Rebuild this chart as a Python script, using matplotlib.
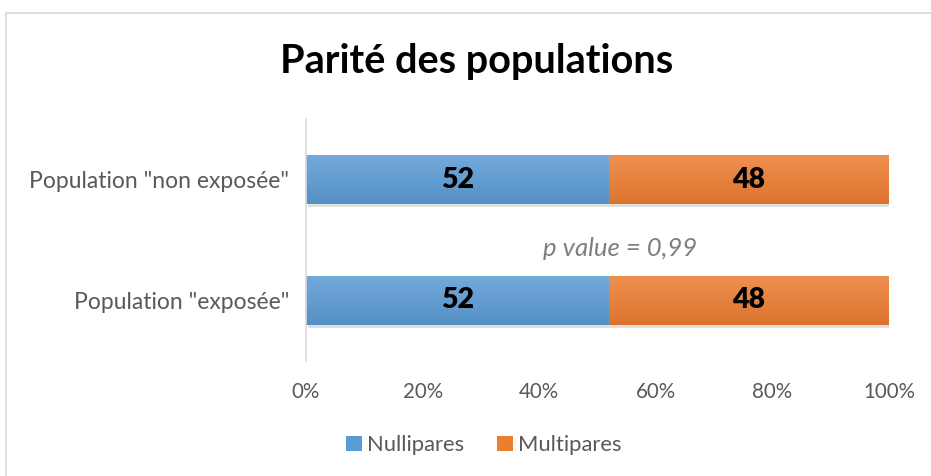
import numpy as np
import matplotlib.pyplot as plt
from matplotlib.patches import Rectangle

# data
categories = ['Population "exposée"', 'Population "non exposée"']
nullipares = [52, 52]
multipares = [48, 48]
series_names = ['Nullipares', 'Multipares']
p_value_text = 'p value = 0,99'
xticks = [0, 20, 40, 60, 80, 100]

blue = '#5B9BD5'
orange = '#ED7D31'
grey = '#595959'

plt.rcParams['font.family'] = ['Lato', 'DejaVu Sans']

fig = plt.figure(figsize=(9.31, 4.76), dpi=100)
ax = fig.add_axes([306 / 931, 115 / 476, 583 / 931, 242 / 476])

# chart border
fig.patches.append(Rectangle((6 / 931, -0.1), 1.1, (476 - 13) / 476 + 0.1,
                             transform=fig.transFigure, fill=False,
                             edgecolor='#D9D9D9', lw=1.2))


def gradient_bar(ax, left, y, width, height, color):
    # vertical gradient, lighter at the top
    base = np.array(plt.matplotlib.colors.to_rgb(color))
    light = base + (1 - base) * 0.15
    dark = base * 0.93
    t = np.linspace(0, 1, 50)[:, None]
    img = light * (1 - t[..., None]) + dark * t[..., None]
    img = np.repeat(img, 2, axis=1)
    # shadow
    ax.add_patch(Rectangle((left + 0.3, y - height / 2 - 0.025), width, height,
                           facecolor='#000000', alpha=0.12, lw=0, zorder=1))
    im = ax.imshow(img, extent=[left, left + width, y - height / 2, y + height / 2],
                   aspect='auto', zorder=2, interpolation='bilinear')
    rect = Rectangle((left, y - height / 2), width, height, fill=False, lw=0)
    ax.add_patch(rect)
    im.set_clip_path(rect)


ypos = np.arange(len(categories))
h = 0.405
for i, y in enumerate(ypos):
    gradient_bar(ax, 0, y, nullipares[i], h, blue)
    gradient_bar(ax, nullipares[i], y, multipares[i], h, orange)
    ax.text(nullipares[i] / 2, y, str(nullipares[i]), ha='center', va='center',
            fontsize=20.5, fontweight='heavy', color='black', zorder=3)
    ax.text(nullipares[i] + multipares[i] / 2, y, str(multipares[i]), ha='center',
            va='center', fontsize=20.5, fontweight='heavy', color='black', zorder=3)

ax.text(53.8, 0.43, p_value_text, ha='center', va='center', fontsize=18.5,
        style='italic', color='#7F7F7F')

ax.set_xlim(0, 100)
ax.set_ylim(-0.5, 1.5)
ax.set_xticks(xticks)
ax.set_xticklabels([f'{v}%' for v in xticks], fontsize=14.8, color=grey)
ax.set_yticks(ypos)
ax.set_yticklabels(categories, fontsize=16.5, color=grey)
ax.tick_params(length=0, pad=12)
ax.tick_params(axis='x', pad=15)
for s in ['top', 'right', 'bottom']:
    ax.spines[s].set_visible(False)
ax.spines['left'].set_color('#D9D9D9')
ax.spines['left'].set_linewidth(1.2)

fig.text(477 / 931, 1 - 61 / 476, 'Parité des populations', ha='center', va='center',
         fontsize=28.5, fontweight='bold', color='black')

handles = [Rectangle((0, 0), 1, 1, facecolor=blue), Rectangle((0, 0), 1, 1, facecolor=orange)]
fig.legend(handles, series_names, loc='center', bbox_to_anchor=(484 / 931, 1 - 445 / 476),
           ncol=2, frameon=False, fontsize=15.8, handlelength=0.7, handleheight=0.7,
           handletextpad=0.25, columnspacing=1.5, labelcolor=grey)

fig.savefig('out.png', dpi=100)
